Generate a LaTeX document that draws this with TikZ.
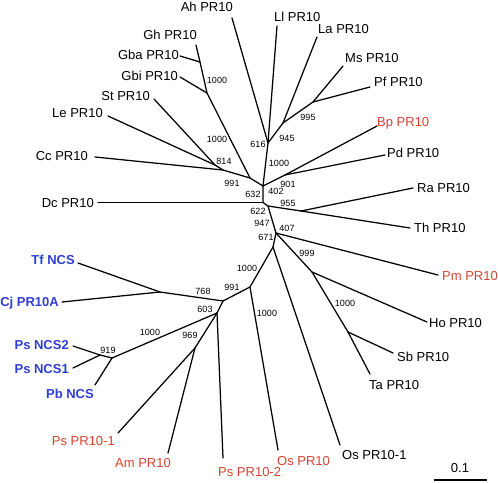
\documentclass[tikz,border=0pt]{standalone}
\usepackage{fontspec}
\setmainfont{Liberation Sans}
\definecolor{tred}{RGB}{214,66,46}
\definecolor{tblue}{RGB}{46,62,214}
\begin{document}
\begin{tikzpicture}[x=1pt,y=-1pt,
  br/.style={line width=1.25pt, line cap=round, line join=round},
  lf/.style={inner sep=0pt, font=\fontsize{13}{15}\selectfont},
  lfred/.style={lf, text=tred},
  lfblue/.style={lf, text=tblue, font=\fontsize{13}{15}\selectfont\bfseries},
  bs/.style={inner sep=0pt, font=\fontsize{9}{11}\selectfont}]
\useasboundingbox (0,0) rectangle (498,482);
% internal nodes
\coordinate (G1) at (200,62);
\coordinate (G2) at (207,93);
\coordinate (L) at (215,165);
\coordinate (C) at (223,170);
\coordinate (D) at (250,178);
\coordinate (P) at (268,143);
\coordinate (LA) at (283,123);
\coordinate (MS) at (313,102);
\coordinate (BP) at (285,175);
\coordinate (E) at (263,186);
\coordinate (G) at (263,202.5);
\coordinate (H) at (268,206);
\coordinate (RT) at (301,211);
\coordinate (I) at (276,233);
\coordinate (J) at (312,272);
\coordinate (K) at (348,332);
\coordinate (F) at (273,247);
\coordinate (M) at (250,287);
\coordinate (N) at (223,301);
\coordinate (O) at (160,292);
\coordinate (Q) at (217,313);
\coordinate (R) at (195,348);
\coordinate (S) at (112,358);
\coordinate (T) at (100,355);
% leaf ends
\coordinate (ahE) at (232,18);
\coordinate (ghE) at (196,45);
\coordinate (gbaE) at (180,56);
\coordinate (gbiE) at (180,77);
\coordinate (stE) at (154,99);
\coordinate (leE) at (108,116);
\coordinate (ccE) at (95,157);
\coordinate (dcE) at (98,202.5);
\coordinate (tfE) at (78,263);
\coordinate (cjE) at (62,302);
\coordinate (ncs2E) at (73,346);
\coordinate (ncs1E) at (73,368);
\coordinate (pbE) at (95,385);
\coordinate (psp1E) at (118,433);
\coordinate (amE) at (168,453);
\coordinate (psp2E) at (223,458);
\coordinate (osE) at (278,450);
\coordinate (os1E) at (340,445);
\coordinate (taE) at (370,374);
\coordinate (sbE) at (393,353);
\coordinate (hoE) at (427,322);
\coordinate (pmE) at (438,275);
\coordinate (thE) at (410,228);
\coordinate (raE) at (413,188);
\coordinate (pdE) at (385,155);
\coordinate (bpE) at (377,126);
\coordinate (pfE) at (370,87);
\coordinate (msE) at (343,66);
\coordinate (laE) at (317,37);
\coordinate (llE) at (277,26);
% leaf labels
\node[lf, anchor=base east] (ah) at (233,11.5) {Ah PR10};
\node[lf, anchor=base east] (gh) at (197,39.5) {Gh PR10};
\node[lf, anchor=base east] (gba) at (179,59.5) {Gba PR10};
\node[lf, anchor=base east] (gbi) at (178,80.5) {Gbi PR10};
\node[lf, anchor=base east] (st) at (150,100.5) {St PR10};
\node[lf, anchor=base east] (le) at (103,117.5) {Le PR10};
\node[lf, anchor=base east] (cc) at (88,160.5) {Cc PR10};
\node[lf, anchor=base east] (dc) at (94,207.5) {Dc PR10};
\node[lfblue, anchor=base east] (tf) at (75,264.5) {Tf NCS};
\node[lfblue, anchor=base east] (cj) at (59,306.5) {Cj PR10A};
\node[lfblue, anchor=base east] (ncs2) at (69,349.5) {Ps NCS2};
\node[lfblue, anchor=base east] (ncs1) at (69,373.5) {Ps NCS1};
\node[lfblue, anchor=base east] (pb) at (94,398.5) {Pb NCS};
\node[lfred, anchor=base east] (psp1) at (115,445.5) {Ps PR10-1};
\node[lfred, anchor=base east] (am) at (171,467.5) {Am PR10};
\node[lfred, anchor=base west] (psp2) at (218,476) {Ps PR10-2};
\node[lfred, anchor=base west] (os) at (277,465.5) {Os PR10};
\node[lf, anchor=base west] (os1) at (342,459.5) {Os PR10-1};
\node[lf, anchor=base west] (ta) at (369,389.5) {Ta PR10};
\node[lf, anchor=base west] (sb) at (397,361.5) {Sb PR10};
\node[lf, anchor=base west] (ho) at (429,327.5) {Ho PR10};
\node[lfred, anchor=base west] (pm) at (442,280.5) {Pm PR10};
\node[lf, anchor=base west] (th) at (414,232.5) {Th PR10};
\node[lf, anchor=base west] (ra) at (417,192.5) {Ra PR10};
\node[lf, anchor=base west] (pd) at (387,157.5) {Pd PR10};
\node[lfred, anchor=base west] (bp) at (377,126.5) {Bp PR10};
\node[lf, anchor=base west] (pf) at (374,86.5) {Pf PR10};
\node[lf, anchor=base west] (ms) at (345,62.5) {Ms PR10};
\node[lf, anchor=base west] (la) at (318,33.5) {La PR10};
\node[lf, anchor=base west] (ll) at (274,21.5) {Ll PR10};
% branches
\draw[br] (ghE) -- (G1) -- (G2) -- (D);
\draw[br] (gbaE) -- (G1);
\draw[br] (gbiE) -- (G2);
\draw[br] (stE) -- (L) -- (C) -- (D) -- (E);
\draw[br] (leE) -- (L);
\draw[br] (ccE) -- (C);
\draw[br] (ahE) -- (P) -- (E);
\draw[br] (llE) -- (P);
\draw[br] (laE) -- (LA) -- (P);
\draw[br] (msE) -- (MS) -- (LA);
\draw[br] (pfE) -- (MS);
\draw[br] (bpE) -- (BP) -- (E);
\draw[br] (pdE) -- (BP);
\draw[br] (E) -- (G) -- (H) -- (I) -- (F) -- (M) -- (N) -- (Q);
\draw[br] (dcE) -- (G);
\draw[br] (H) -- (RT);
\draw[br] (raE) -- (RT);
\draw[br] (thE) -- (RT);
\draw[br] (I) -- (pmE);
\draw[br] (I) -- (J) -- (K);
\draw[br] (J) -- (hoE);
\draw[br] (K) -- (sbE);
\draw[br] (K) -- (taE);
\draw[br] (F) -- (os1E);
\draw[br] (M) -- (osE);
\draw[br] (N) -- (O);
\draw[br] (O) -- (tfE);
\draw[br] (O) -- (cjE);
\draw[br] (Q) -- (psp2E);
\draw[br] (Q) -- (R);
\draw[br] (R) -- (psp1E);
\draw[br] (R) -- (amE);
\draw[br] (Q) -- (S) -- (T);
\draw[br] (T) -- (ncs2E);
\draw[br] (T) -- (ncs1E);
\draw[br] (S) -- (pbE);
% bootstrap values
\node[bs] (b1) at (217,80) {1000};
\node[bs] (b2) at (217,139) {1000};
\node[bs] (b3) at (224,161) {814};
\node[bs] (b4) at (232,183) {991};
\node[bs] (b5) at (258,144) {616};
\node[bs] (b6) at (287,138) {945};
\node[bs] (b7) at (308,117) {995};
\node[bs] (b8) at (279,163) {1000};
\node[bs] (b9) at (288,184) {901};
\node[bs] (b10) at (276,191) {402};
\node[bs] (b11) at (253,194) {632};
\node[bs] (b12) at (288,203) {955};
\node[bs] (b13) at (258,211) {622};
\node[bs] (b14) at (262,223) {947};
\node[bs] (b15) at (287,228) {407};
\node[bs] (b16) at (266,237) {671};
\node[bs] (b17) at (307,253) {999};
\node[bs] (b18) at (345,303) {1000};
\node[bs] (b19) at (247,268) {1000};
\node[bs] (b20) at (232,287) {991};
\node[bs] (b21) at (267,313) {1000};
\node[bs] (b22) at (203,291) {768};
\node[bs] (b23) at (205,309) {603};
\node[bs] (b24) at (190,335) {969};
\node[bs] (b25) at (150,332) {1000};
\node[bs] (b26) at (108,350) {919};
% scale bar
\coordinate (sbL) at (434,480);
\coordinate (sbR) at (487,480);
\draw[br, line cap=butt] (sbL) -- (sbR);
\node[lf, anchor=base] (sbt) at (460,472.5) {0.1};
\end{tikzpicture}
\end{document}
